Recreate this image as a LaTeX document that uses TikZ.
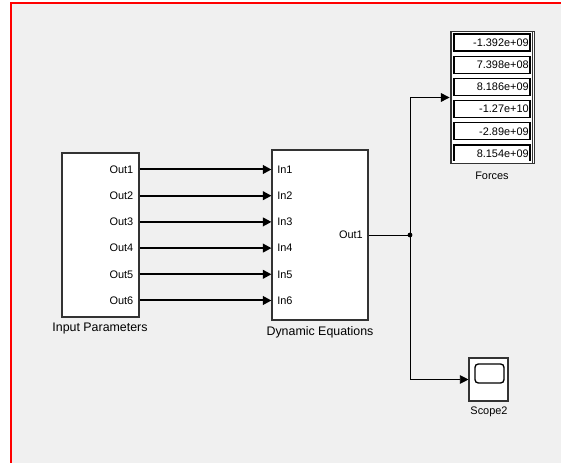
\documentclass[tikz,border=0pt]{standalone}
\usepackage{fontspec}
\setmainfont{Liberation Sans}
\usetikzlibrary{arrows.meta,calc}
\tikzset{
  block/.style={draw=black!80, fill=white, line width=0.8pt, inner sep=0pt},
  port/.style={font=\fontsize{8.2}{9}\selectfont, inner sep=0pt},
  blockname/.style={font=\fontsize{9.3}{10}\selectfont, inner sep=0pt},
  bus/.style={line width=1.5pt, -{Triangle[length=6.5pt,width=6.5pt]}},
  sig/.style={line width=0.7pt, -{Triangle[length=6.5pt,width=6.5pt]}},
}
\begin{document}
\begin{tikzpicture}[x=0.75pt,y=-0.75pt]
	\useasboundingbox (0,0) rectangle (561,463);
	\fill[white] (0,0) rectangle (561,463);
	\fill[gray!12] (11,3) rectangle (561,463);
	\draw[red, line width=1.6pt] (11,463)--(11,2.6)--(561,2.6);
	% khoi
	\node[block, minimum width=57.75pt, minimum height=123pt] (inp) at (100.5,235) {};
	\node[block, minimum width=72pt, minimum height=127.5pt] (dyn) at (320,235) {};
	\node[block, line width=0.6pt, minimum width=63pt, minimum height=99pt] (forces) at (492,97.5) {};
	\node[block, minimum width=29.25pt, minimum height=32.25pt] (scope) at (488.5,379.5) {};
	\draw[black!80, line width=0.6pt] ($(forces.north west)+(2,0)$) -- ($(forces.south west)+(2,0)$)
		($(forces.north east)+(-2,0)$) -- ($(forces.south east)+(-2,0)$);
	\draw[line width=1pt, rounded corners=2.5pt] (475,364) rectangle (504,383);
	\node[blockname] (inpname) at (100,329) {Input Parameters};
	\node[blockname] (dynname) at (320,332) {Dynamic Equations};
	\node[port] (forcesname) at (492,176) {Forces};
	\node[port] (scopename) at (489,412) {Scope2};
	% cac cong vao ra
	\foreach \i in {1,...,6}{
		\node[port, anchor=east] (out\i) at (133.5,{235+(\i-3.5)*26.2}) {Out\i};
		\node[port, anchor=west] (in\i) at (277,{235+(\i-3.5)*26.2}) {In\i};
		\draw[bus] (inp.east |- out\i) -- (dyn.west |- in\i);
	}
	\node[port, anchor=east] (dout) at (363,235) {Out1};
	% hien thi gia tri
	\foreach \v [count=\k] in {-1.392e+09,7.398e+08,8.186e+09,-1.27e+10,-2.89e+09,8.154e+09}{
		\begin{scope}
			\clip (440,20) rectangle (540,161);
			\draw[line width=0.8pt, fill=white] (454,{34+(\k-1)*22.2}) rectangle (530,{51+(\k-1)*22.2});
		\end{scope}
		\node[port, anchor=east] (val\k) at (529,{42.5+(\k-1)*22.2}) {\v};
	}
	\coordinate (j) at (410,235);
	\draw[line width=0.7pt] (dyn.east) -- (j);
	\fill (j) circle (1.8pt);
	\draw[sig] (j) |- (forces.west);
	\draw[sig] (j) |- (scope.west);
\end{tikzpicture}
\end{document}
